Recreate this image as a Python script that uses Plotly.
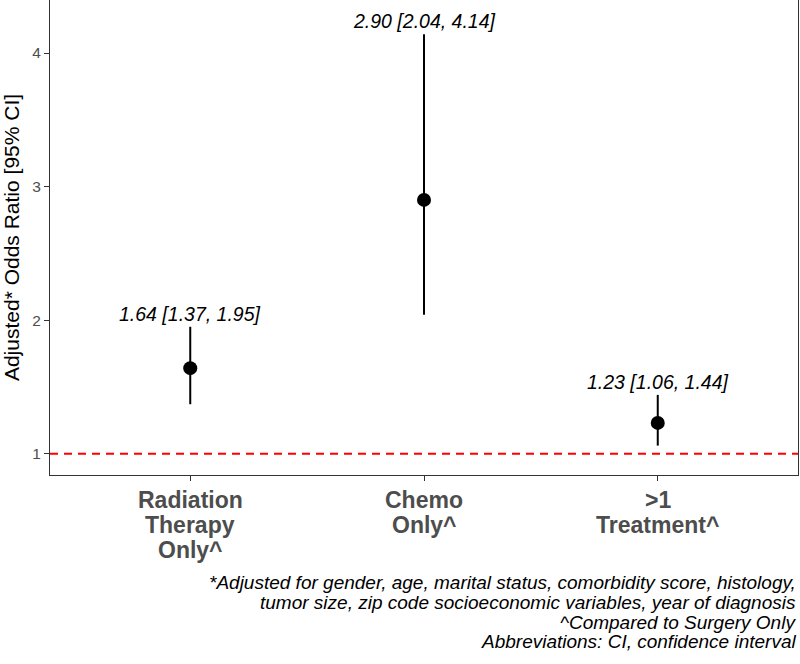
import plotly.graph_objects as go

categories = ["Radiation<br>Therapy<br>Only^", "Chemo<br>Only^", ">1<br>Treatment^"]
odds_ratio = [1.64, 2.90, 1.23]
ci_low = [1.37, 2.04, 1.06]
ci_high = [1.95, 4.14, 1.44]
y_ticks = [1, 2, 3, 4]
captions = [
    "*Adjusted for gender, age, marital status, comorbidity score, histology,",
    "tumor size, zip code socioeconomic variables, year of diagnosis",
    "^Compared to Surgery Only",
    "Abbreviations: CI, confidence interval",
]

FONT = "Liberation Sans, Arial, sans-serif"
PLOT_H = 475.0  # plot area height in px (top margin ~0)


def py(ypx):
    return (PLOT_H - ypx) / PLOT_H


labels = [f"{o:.2f} [{l:.2f}, {h:.2f}]" for o, l, h in zip(odds_ratio, ci_low, ci_high)]
xpos = list(range(len(categories)))

fig = go.Figure()

# reference line at OR = 1
fig.add_shape(type="line", xref="paper", x0=0, x1=1, yref="y", y0=1, y1=1,
              line=dict(color="#FF0000", width=2, dash="8px,6px"), layer="below")

# confidence intervals
for x, lo, hi in zip(xpos, ci_low, ci_high):
    fig.add_trace(go.Scatter(x=[x, x], y=[lo, hi], mode="lines",
                             line=dict(color="black", width=2), showlegend=False,
                             hoverinfo="skip"))

# point estimates
fig.add_trace(go.Scatter(x=xpos, y=odds_ratio, mode="markers",
                         marker=dict(color="black", size=14), showlegend=False))

# value labels
for x, hi, lab in zip(xpos, ci_high, labels):
    fig.add_annotation(x=x, y=hi, text=f"<i>{lab}</i>", showarrow=False,
                       yanchor="middle", yshift=13,
                       font=dict(family=FONT, size=19.5, color="black"))

# category labels (bold, tight line spacing)
line_y = [500, 525, 550]
for x, cat in zip(xpos, categories):
    for i, part in enumerate(cat.split("<br>")):
        fig.add_annotation(xref="x", yref="paper", x=x, y=py(line_y[i]),
                           yanchor="middle", text=f"<b>{part}</b>", showarrow=False,
                           font=dict(family=FONT, size=23, color="#4D4D4D"))

# captions
cap_y = [582, 602, 622, 641]
for txt, yy in zip(captions, cap_y):
    fig.add_annotation(xref="paper", yref="paper", x=1.0, y=py(yy), xanchor="right",
                       yanchor="middle", text=f"<i>{txt}</i>", showarrow=False,
                       font=dict(family=FONT, size=19, color="black"))

fig.update_layout(
    width=800, height=664,
    margin=dict(l=50, r=2, t=0, b=189, autoexpand=False),
    paper_bgcolor="white", plot_bgcolor="white",
    font=dict(family=FONT),
    xaxis=dict(range=[-0.6, 2.6], tickmode="array", tickvals=xpos,
               showticklabels=False,
               showgrid=False, zeroline=False, showline=True, linecolor="#333333",
               linewidth=1.3, mirror=True, ticks="outside", ticklen=5, tickcolor="#333333"),
    yaxis=dict(range=[0.84, 4.397], tickmode="array", tickvals=y_ticks,
               showgrid=False, zeroline=False, showline=True, linecolor="#333333",
               linewidth=1.3, mirror=True, ticks="outside", ticklen=5, tickcolor="#333333",
               tickfont=dict(size=15.5, color="#4D4D4D"),
               title=dict(text="Adjusted* Odds Ratio [95% CI]", standoff=6,
                          font=dict(size=21, color="black"))),
)

fig.write_html("out.html", config={"displayModeBar": False},
               post_script="document.body.style.margin='0';")
